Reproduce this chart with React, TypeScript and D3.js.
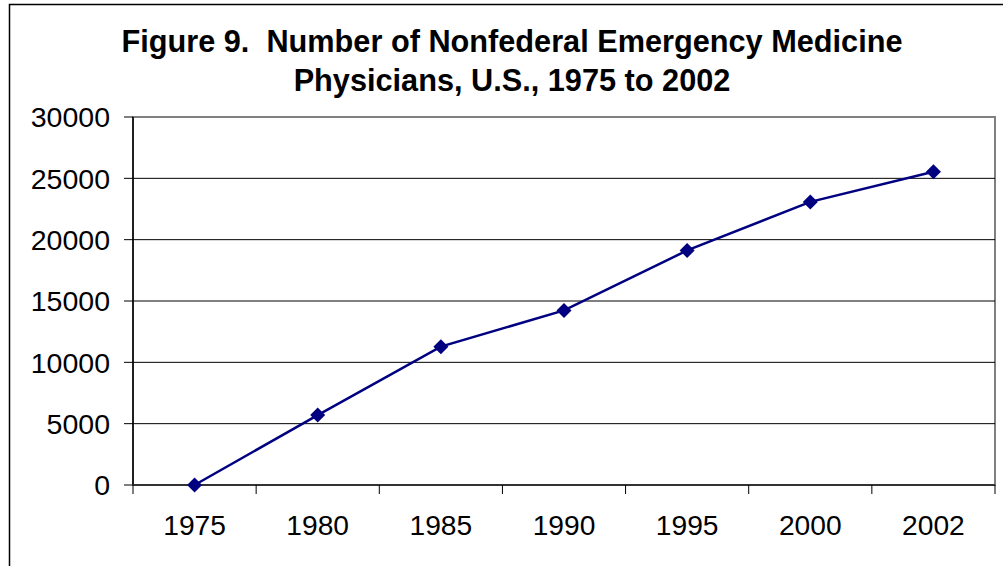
import React from "react";
import * as d3 from "d3";

const categories = ["1975", "1980", "1985", "1990", "1995", "2000", "2002"];
const physicians = [0, 5700, 11280, 14230, 19120, 23080, 25540];
const yTicks = [0, 5000, 10000, 15000, 20000, 25000, 30000];
const titleLines = [
  "Figure 9.  Number of Nonfederal Emergency Medicine",
  "Physicians, U.S., 1975 to 2002",
];

const W = 1003;
const H = 566;
const plot = { left: 133, right: 995, top: 117, bottom: 485 };
const font = "'Liberation Sans', Arial, Helvetica, sans-serif";
const navy = "#000080";

export default function App() {
  const x = d3
    .scaleBand<string>()
    .domain(categories)
    .range([plot.left, plot.right])
    .padding(0);
  const y = d3.scaleLinear().domain([0, 30000]).range([plot.bottom, plot.top]);

  const pts = categories.map((c, i) => [x(c)! + x.bandwidth() / 2, y(physicians[i])] as [number, number]);
  const line = d3.line()(pts) || "";
  const boundaries = [...categories.map((c) => x(c)!), plot.right];
  const m = 7.5;
  const diamond = `M0,${-m}L${m},0L0,${m}L${-m},0Z`;

  return (
    <svg
      width={W}
      height={H}
      style={{ position: "absolute", left: 0, top: 0, background: "#fff" }}
      fontFamily={font}
    >
      <rect x={0} y={0} width={W} height={H} fill="#fff" />
      {/* outer chart border */}
      <rect x={9.5} y={4.5} width={W + 20} height={H + 20} fill="none" stroke="#000" strokeWidth={1.5} />

      {/* title */}
      {titleLines.map((t, i) => (
        <text
          key={i}
          x={512}
          y={52 + i * 38.5}
          textAnchor="middle"
          fontSize={30.7}
          fontWeight="bold"
          fill="#000"
          style={{ whiteSpace: "pre" }}
        >
          {t}
        </text>
      ))}

      {/* plot area border */}
      <rect
        x={plot.left}
        y={plot.top}
        width={plot.right - plot.left}
        height={plot.bottom - plot.top}
        fill="#fff"
        stroke="#808080"
        strokeWidth={2}
      />

      {/* gridlines */}
      {yTicks.slice(1, -1).map((v) => (
        <line key={v} x1={plot.left} x2={plot.right} y1={y(v)} y2={y(v)} stroke="#000" strokeWidth={1} />
      ))}
      <line x1={plot.left} x2={plot.right} y1={y(30000)} y2={y(30000)} stroke="#808080" strokeWidth={2} />

      {/* y axis */}
      <line x1={plot.left} x2={plot.left} y1={plot.top} y2={plot.bottom} stroke="#000" strokeWidth={1.5} />
      {yTicks.map((v) => (
        <g key={v}>
          <line x1={plot.left - 9} x2={plot.left} y1={y(v)} y2={y(v)} stroke="#000" strokeWidth={1} />
          <text x={110} y={y(v)} dy="0.36em" textAnchor="end" fontSize={28.5} fill="#000">
            {v}
          </text>
        </g>
      ))}

      {/* x axis */}
      <line x1={plot.left} x2={plot.right} y1={plot.bottom} y2={plot.bottom} stroke="#333" strokeWidth={2} />
      {boundaries.map((b, i) => (
        <line key={i} x1={b} x2={b} y1={plot.bottom} y2={plot.bottom + 9} stroke="#000" strokeWidth={1} />
      ))}
      {categories.map((c) => (
        <text key={c} x={x(c)! + x.bandwidth() / 2} y={535} textAnchor="middle" fontSize={28.2} fill="#000">
          {c}
        </text>
      ))}

      {/* series */}
      <path d={line} fill="none" stroke={navy} strokeWidth={2.5} />
      {pts.map(([px, py], i) => (
        <path key={i} d={diamond} transform={`translate(${px},${py})`} fill={navy} />
      ))}
    </svg>
  );
}
